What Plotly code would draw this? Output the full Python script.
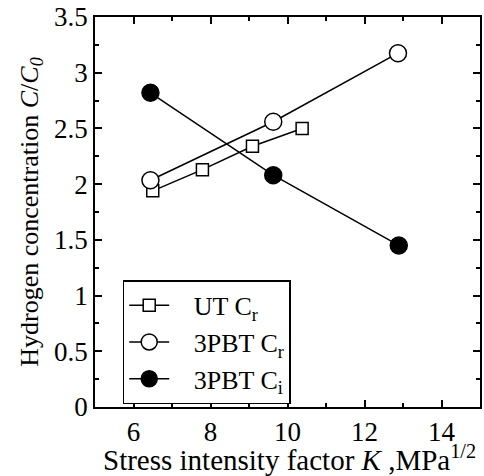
import plotly.graph_objects as go

ut_x = [6.50, 7.79, 9.09, 10.38]
ut_y = [1.94, 2.13, 2.34, 2.50]
pb_r_x = [6.44, 9.63, 12.87]
pb_r_y = [2.035, 2.56, 3.175]
pb_i_x = [6.44, 9.63, 12.89]
pb_i_y = [2.82, 2.08, 1.45]
x_title = "Stress intensity factor <i>K</i> ,MPa<sup>1/2</sup>"
y_title = "Hydrogen concentration <i>C</i>/<i>C<sub>0</sub></i>"

FONT = "Liberation Serif"
NB = "\u00a0\u00a0\u00a0"
fig = go.Figure()
fig.add_trace(go.Scatter(x=ut_x, y=ut_y, mode="lines+markers", name=NB + "UT C<sub>r</sub>",
                         line=dict(color="black", width=1.5),
                         marker=dict(symbol="square", size=12, color="white",
                                     line=dict(color="black", width=1.5))))
fig.add_trace(go.Scatter(x=pb_r_x, y=pb_r_y, mode="lines+markers", name=NB + "3PBT C<sub>r</sub>",
                         line=dict(color="black", width=1.5),
                         marker=dict(symbol="circle", size=17, color="white",
                                     line=dict(color="black", width=1.5))))
fig.add_trace(go.Scatter(x=pb_i_x, y=pb_i_y, mode="lines+markers", name=NB + "3PBT C<sub>i</sub>",
                         line=dict(color="black", width=1.5),
                         marker=dict(symbol="circle", size=17, color="black",
                                     line=dict(color="black", width=1.5))))

axis_common = dict(showgrid=False, zeroline=False, showline=True, linecolor="black",
                   linewidth=1.5, mirror="allticks", ticks="inside", ticklen=7,
                   tickwidth=1.5, tickcolor="black",
                   tickfont=dict(family=FONT, size=27, color="black"))
fig.update_xaxes(range=[5, 15], dtick=2, tick0=0,
                 minor=dict(dtick=1, ticks="inside", ticklen=4, tickwidth=1.5, tickcolor="black"),
                 **axis_common)
fig.update_yaxes(range=[0, 3.5], dtick=0.5, tick0=0,
                 minor=dict(dtick=0.25, ticks="inside", ticklen=4, tickwidth=1.5, tickcolor="black"),
                 title=dict(text=y_title,
                            font=dict(family=FONT, size=26, color="black"), standoff=8),
                 **axis_common)
fig.add_annotation(text=x_title, xref="paper", yref="paper", x=0.505, y=-0.182,
                   xanchor="center", yanchor="bottom", showarrow=False,
                   font=dict(family=FONT, size=29, color="black"))
fig.update_layout(width=484, height=476, plot_bgcolor="white", paper_bgcolor="white",
                  font=dict(family=FONT, color="black"),
                  margin=dict(l=95, r=2, t=17, b=69),
                  legend=dict(x=0.072, y=0.325, xanchor="left", yanchor="top",
                              bordercolor="black", borderwidth=1.5, bgcolor="white",
                              font=dict(family=FONT, size=26, color="black"),
                              tracegroupgap=0, itemwidth=40))
fig.write_html("out.html", config={"displayModeBar": False},
               post_script="document.body.style.margin='0';")
